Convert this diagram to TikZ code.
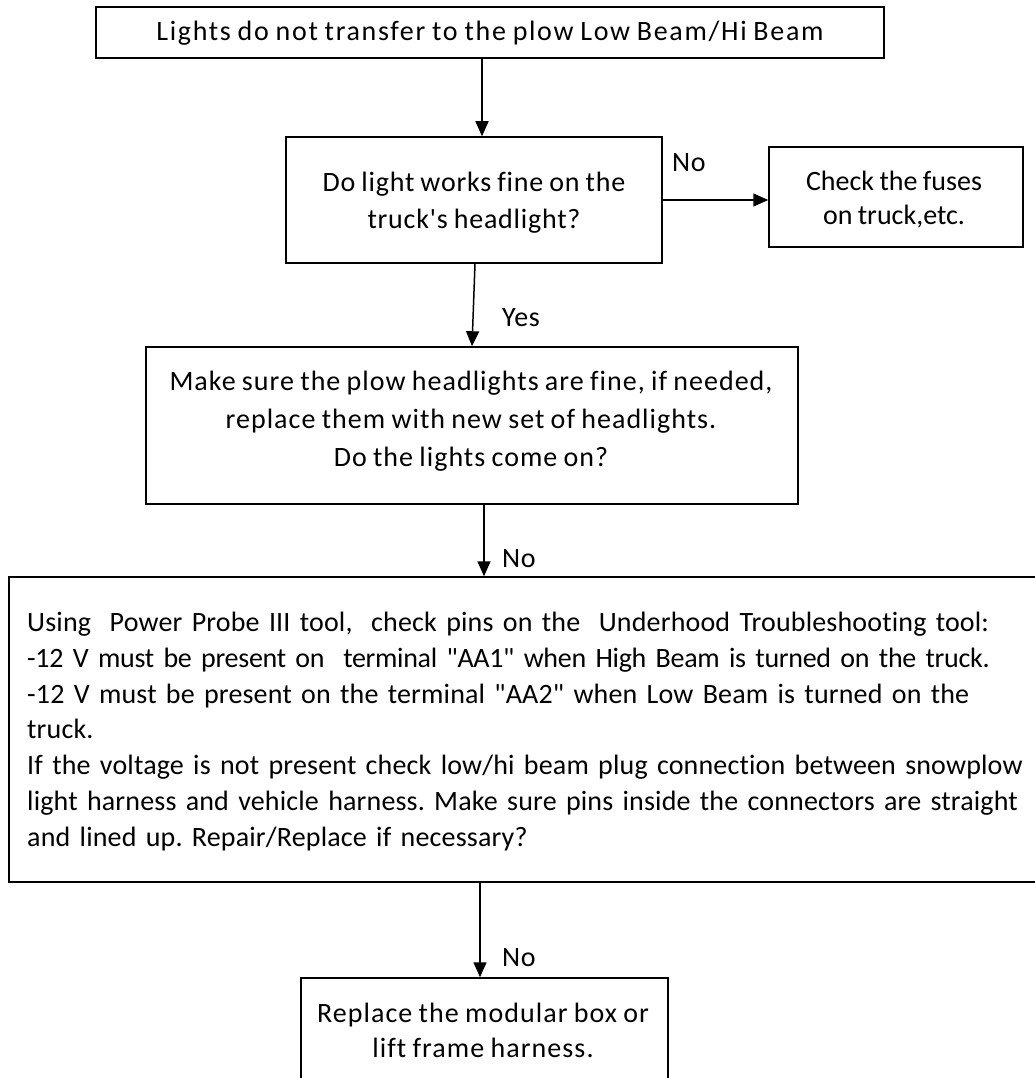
\documentclass[tikz,border=0pt]{standalone}
\usepackage{fontspec}
\setmainfont{Carlito}
\newfontfamily\fA{Carlito}[LetterSpace=6.0,WordSpace=0.85,Ligatures={TeXOff,NoCommon}]
\newfontfamily\fB{Carlito}[LetterSpace=2.8,WordSpace=0.85,Ligatures={TeXOff,NoCommon}]
\newfontfamily\fC{Carlito}[LetterSpace=0.0,WordSpace=0.85,Ligatures={TeXOff,NoCommon}]
\newfontfamily\fD{Carlito}[LetterSpace=3.7,WordSpace=0.85,Ligatures={TeXOff,NoCommon}]
\newfontfamily\fE{Carlito}[LetterSpace=0.6,WordSpace=0.85,Ligatures={TeXOff,NoCommon}]
\newfontfamily\fEt{Carlito}[LetterSpace=-1.1,WordSpace=0.85,Ligatures={TeXOff,NoCommon}]
\newfontfamily\fF{Carlito}[LetterSpace=3.8,WordSpace=0.85,Ligatures={TeXOff,NoCommon}]
\newfontfamily\fL{Carlito}[LetterSpace=2.0,WordSpace=0.85,Ligatures={TeXOff,NoCommon}]
\usetikzlibrary{arrows.meta}
\begin{document}
\begin{tikzpicture}[x=1pt,y=-1pt,
  box/.style={draw,line width=1.5pt,inner sep=0pt},
  txt/.style={inner sep=0pt,align=center},
  lbl/.style={anchor=west,inner sep=0pt,font=\fL\fontsize{28}{34}\selectfont},
  arr/.style={line width=1.5pt,-{Triangle[width=13pt,length=15pt]}}]
\useasboundingbox (0,0) rectangle (1035,1078);
\clip (0,0) rectangle (1035,1078);
% boxes
\node[box,minimum width=788pt,minimum height=51pt] (b1) at (490,32.5) {};
\node[box,minimum width=376pt,minimum height=126pt] (b2) at (474,200) {};
\node[box,minimum width=254pt,minimum height=100pt] (b2n) at (896,197) {};
\node[box,minimum width=652pt,minimum height=157pt] (b3) at (472,425.5) {};
\node[box,minimum width=1031pt,minimum height=305pt] (b4) at (524.5,729.5) {};
\node[box,minimum width=367pt,minimum height=105pt] (b5) at (484.5,1030.5) {};
% texts
\node[txt,font=\fA\fontsize{28}{36}\selectfont] (t1) at (490,33)
  {Lights do not transfer to the plow Low Beam/Hi Beam};
\node[txt,font=\fB\fontsize{28}{37}\selectfont] (t2) at (474,202.5)
  {Do light works fine on the\\truck's headlight?};
\node[txt,font=\fC\fontsize{28}{34}\selectfont] (t2n) at (894,200)
  {Check the fuses\\on truck,etc.};
\node[txt,font=\fD\fontsize{28}{38}\selectfont] (t3) at (471,421)
  {Make sure the plow headlights are fine, if needed,\\replace them with new set of headlights.\\Do the lights come on?};
\node[inner sep=0pt,align=left,text width=1020pt,anchor=west,
  font=\fE\fontsize{28}{35.7}\selectfont\frenchspacing] (t4) at (27,731.5)
  {Using\ \ Power Probe III tool,\ \ check pins on the\ \ Underhood Troubleshooting tool:\\
   {\fEt -12 V must be present on\ \ terminal "AA1" when High Beam is turned on the truck.}\\
   -12 V must be present on the terminal "AA2" when Low Beam is turned on the\\
   truck.\\
   If the voltage is not present check low/hi beam plug connection between snowplow\\
   light harness and vehicle harness. Make sure pins inside the connectors are straight\\
   and lined up. Repair/Replace if necessary?};
\node[txt,font=\fF\fontsize{28}{35}\selectfont] (t5) at (483,1030.5)
  {Replace the modular box or\\lift frame harness.};
% connectors
\coordinate (x1) at (482,0);
\coordinate (x2a) at (475,0);
\coordinate (x2b) at (472,0);
\coordinate (x3) at (484,0);
\coordinate (x4) at (480,0);
\coordinate (y5) at (0,200);
\draw[arr] (b1.south -| x1) -- (b2.north -| x1);
\draw[arr] (b2.east |- y5) -- (b2n.west |- y5);
\draw[arr] (b2.south -| x2a) -- (b3.north -| x2b);
\draw[arr] (b3.south -| x3) -- (b4.north -| x3);
\draw[arr] (b4.south -| x4) -- (b5.north -| x4);
\node[lbl] (l1) at (672,163) {No};
\node[lbl] (l2) at (502,318) {Yes};
\node[lbl] (l3) at (502,559) {No};
\node[lbl] (l4) at (502,958) {No};
\end{tikzpicture}
\end{document}
